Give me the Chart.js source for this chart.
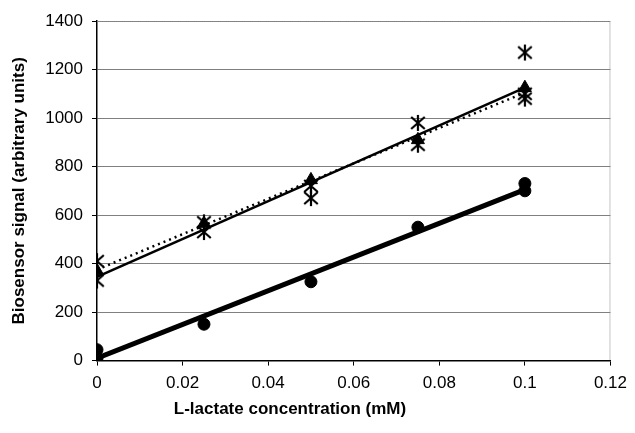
<!DOCTYPE html>
<html>
<head>
<meta charset="utf-8">
<script src="https://cdn.jsdelivr.net/npm/chart.js@4.4.0/dist/chart.umd.min.js"></script>
<style>
  html, body { margin: 0; padding: 0; background: #fff; }
  #wrap { width: 635px; height: 433px; }
</style>
</head>
<body>
<div id="wrap"><canvas id="c" width="635" height="433"></canvas></div>
<script>
// measured points (x in mM, y in arbitrary units)
var circleX = [0, 0, 0.025, 0.05, 0.075, 0.1, 0.1];
var circleY = [10, 45, 150, 325, 550, 700, 730];

var triX = [0, 0.025, 0.05, 0.075, 0.1];
var triY = [370, 565, 745, 910, 1125];

var starX = [0, 0, 0.025, 0.025, 0.05, 0.05, 0.075, 0.075, 0.1, 0.1, 0.1];
var starY = [410, 330, 570, 530, 670, 720, 980, 890, 1270, 1080, 1100];

// trend lines (start / end)
var trendX = [0, 0.1];
var circleTrend = [10, 705];
var triTrend = [345, 1125];
var starTrend = [375, 1105];

var xTicks = ['0', '0.02', '0.04', '0.06', '0.08', '0.1', '0.12'];
var xTitle = 'L-lactate concentration (mM)';
var yTitle = 'Biosensor signal (arbitrary units)';

function pts(xs, ys) {
	var out = [];
	for (var i = 0; i < xs.length; i++) out.push({x: xs[i], y: ys[i]});
	return out;
}

// six spoke asterisk marker
function asterisk(r) {
	var cv = document.createElement('canvas');
	cv.width = cv.height = r * 2 + 2;
	var g = cv.getContext('2d');
	var c = r + 1;
	g.strokeStyle = '#000';
	g.lineWidth = 2.2;
	g.beginPath();
	g.moveTo(c - r * 0.85, c - r * 0.75); g.lineTo(c + r * 0.85, c + r * 0.75);
	g.moveTo(c + r * 0.85, c - r * 0.75); g.lineTo(c - r * 0.85, c + r * 0.75);
	g.moveTo(c, c - r); g.lineTo(c, c + r);
	g.stroke();
	return cv;
}

var font = 'Liberation Sans, Arial, sans-serif';

var frame = {
	id: 'frame',
	afterDraw: function(chart) {
		var a = chart.chartArea, ctx = chart.ctx;
		ctx.save();
		ctx.strokeStyle = '#888';
		ctx.lineWidth = 1;
		ctx.setLineDash([1, 1]);
		ctx.beginPath();
		ctx.moveTo(a.left, a.top + 0.5);
		ctx.lineTo(a.right - 0.5, a.top + 0.5);
		ctx.lineTo(a.right - 0.5, a.bottom);
		ctx.stroke();
		ctx.restore();
		// x axis title, sits left of centre like the original
		ctx.save();
		ctx.fillStyle = '#000';
		ctx.font = 'bold 17px ' + font;
		ctx.textAlign = 'center';
		ctx.textBaseline = 'middle';
		ctx.fillText(xTitle, 290, 409);
		ctx.restore();
	}
};

new Chart(document.getElementById('c'), {
	type: 'scatter',
	data: {
		datasets: [
			{ type: 'line', data: pts(trendX, circleTrend), borderColor: '#000', borderWidth: 5, pointRadius: 0, order: 5 },
			{ type: 'line', data: pts(trendX, triTrend), borderColor: '#000', borderWidth: 2.5, pointRadius: 0, order: 5 },
			{ type: 'line', data: pts(trendX, starTrend), borderColor: '#000', borderWidth: 2.5, borderDash: [2, 4], pointRadius: 0, order: 5 },
			{ data: pts(circleX, circleY), pointStyle: 'circle', pointRadius: 6, backgroundColor: '#000', borderColor: '#000', order: 1 },
			{ data: pts(starX, starY), pointStyle: asterisk(8), order: 2 },
			{ data: pts(triX, triY), pointStyle: 'triangle', pointRadius: 7.5, backgroundColor: '#000', borderColor: '#000', order: 1 }
		]
	},
	options: {
		responsive: false,
		animation: false,
		layout: { padding: { top: 21, right: 19, left: 9, bottom: 31 } },
		plugins: { legend: { display: false }, tooltip: { enabled: false } },
		scales: {
			x: {
				type: 'linear', min: 0, max: 0.12,
				ticks: {
					stepSize: 0.02, color: '#000', padding: 8,
					font: { family: font, size: 17 },
					callback: function(v, i) { return xTicks[i]; }
				},
				grid: { drawOnChartArea: false, drawTicks: true, tickLength: 5, tickColor: '#000' },
				border: { color: '#000', width: 1.5 }
			},
			y: {
				min: 0, max: 1400,
				ticks: { stepSize: 200, color: '#000', padding: 9, font: { family: font, size: 17 },
					callback: function(v) { return String(v); } },
				grid: { color: '#808080', lineWidth: 1, tickLength: 5, tickColor: '#000' },
				border: { color: '#000', width: 1.5 },
				title: { display: true, text: yTitle, color: '#000', font: { family: font, size: 17, weight: 'bold' }, padding: { top: 0, bottom: 0 } },
				afterFit: function(s) { s.width = 88; }
			}
		}
	},
	plugins: [frame]
});
</script>
</body>
</html>
